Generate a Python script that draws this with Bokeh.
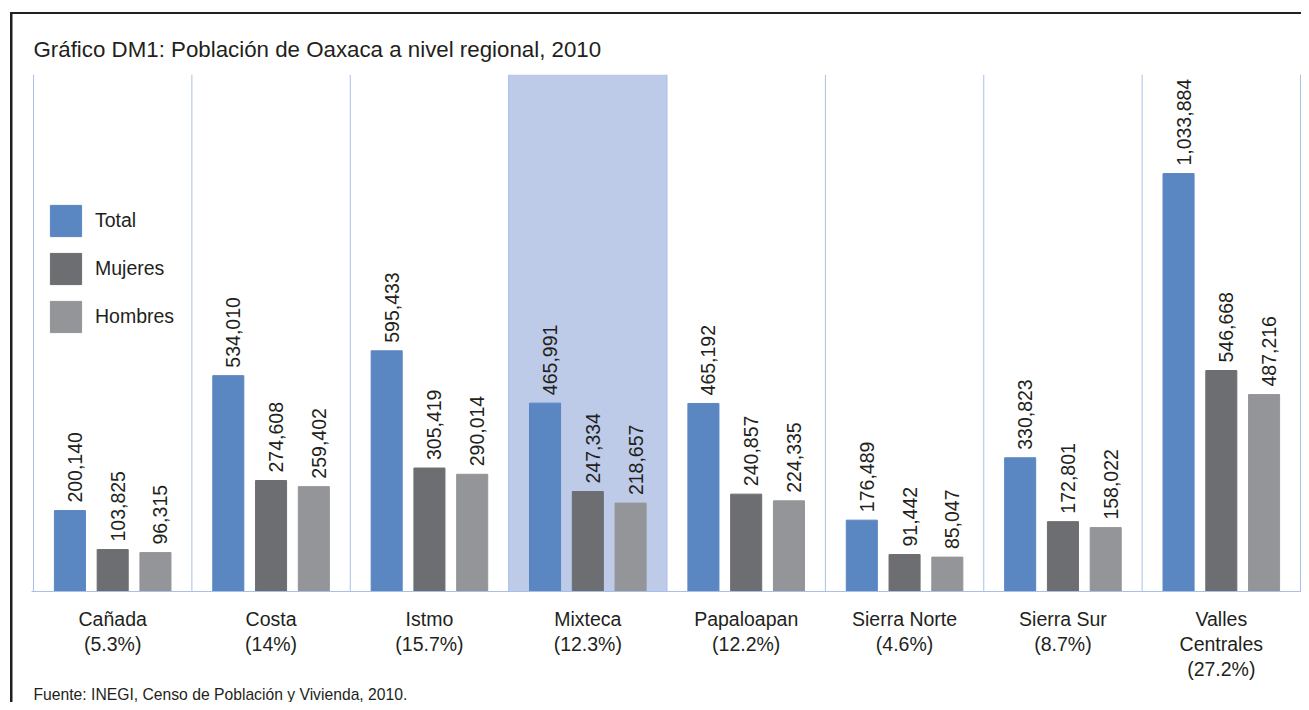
from bokeh.plotting import figure
from bokeh.models import Range1d, FixedTicker, Legend, LegendItem, ColumnDataSource, Title
from bokeh.embed import file_html
from bokeh.resources import INLINE
from bokeh.core.properties import value
import numpy as np

# ---- data ----
regions = ["Cañada", "Costa", "Istmo", "Mixteca", "Papaloapan",
           "Sierra Norte", "Sierra Sur", "Valles Centrales"]
region_labels = ["Cañada\n(5.3%)", "Costa\n(14%)", "Istmo\n(15.7%)", "Mixteca\n(12.3%)",
                 "Papaloapan\n(12.2%)", "Sierra Norte\n(4.6%)", "Sierra Sur\n(8.7%)",
                 "Valles\nCentrales\n(27.2%)"]
total = [200140, 534010, 595433, 465991, 465192, 176489, 330823, 1033884]
mujeres = [103825, 274608, 305419, 247334, 240857, 91442, 172801, 546668]
hombres = [96315, 259402, 290014, 218657, 224335, 85047, 158022, 487216]
series_names = ["Total", "Mujeres", "Hombres"]
highlight = "Mixteca"

title_text = "Gráfico DM1: Población de Oaxaca a nivel regional, 2010"
source_text = "Fuente: INEGI, Censo de Población y Vivienda, 2010."

# ---- style ----
FONT = "Liberation Sans"
TXT = "#231F20"
COLORS = ["#5A86C2", "#6D6E71", "#939598"]
GRID = "#A9C0E6"
BAND = "#BDCBE9"
YMAX = 1279000

n = len(regions)
p = figure(width=1301, height=702,
           x_range=Range1d(-0.01263, n + 0.00631), y_range=Range1d(0, YMAX),
           output_backend="svg", toolbar_location=None, y_axis_location=None,
           min_border_left=31, min_border_right=0, min_border_top=74, min_border_bottom=110)
p.border_fill_color = None
p.background_fill_color = None
p.outline_line_color = None
p.xgrid.visible = False
p.ygrid.visible = False
p.styles = {
    "background": ("linear-gradient(#231F20,#231F20) 10px 12px / calc(100% - 10px) 2px no-repeat, "
                   "linear-gradient(#231F20,#231F20) 10px 12px / 2.5px calc(100% - 12px) no-repeat, white"),
}

# title
p.title = Title(text=title_text, align="left", offset=2, standoff=25,
                text_font=FONT, text_font_size="22.3px", text_font_style="normal", text_color=TXT)

# highlight band
hi = regions.index(highlight)
p.quad(left=[hi], right=[hi + 1], bottom=[0], top=[YMAX], fill_color=BAND, line_color=None)

# category separators
bounds = list(range(n + 1))
p.segment(x0=bounds, y0=[0] * (n + 1), x1=bounds, y1=[YMAX] * (n + 1), line_color=GRID, line_width=1)

# bars
centers = np.arange(n) + 0.5
offsets = [-0.27, 0.0, 0.27]
bw = 0.196
renderers = []
for vals, off, col in zip([total, mujeres, hombres], offsets, COLORS):
    src = ColumnDataSource(dict(x=centers + off, top=vals, lab=[f"{v:,}" for v in vals]))
    r = p.vbar(x="x", top="top", width=bw, bottom=0, source=src, fill_color=col, line_color=col)
    renderers.append(r)
    p.text(x="x", y="top", text="lab", source=src, angle=np.pi / 2,
           text_align="left", text_baseline="middle", x_offset=5, y_offset=-8,
           text_font=value(FONT), text_font_size="19.5px", text_color=TXT)

# x axis
ax = p.xaxis[0]
ax.ticker = FixedTicker(ticks=list(centers))
ax.major_label_overrides = {float(c): lab for c, lab in zip(centers, region_labels)}
ax.axis_line_color = GRID
ax.major_tick_line_color = None
ax.minor_tick_line_color = None
ax.major_tick_out = 0
ax.major_tick_in = 0
ax.major_label_standoff = 16
ax.major_label_text_font = FONT
ax.major_label_text_font_size = "19.5px"
ax.major_label_text_color = TXT
ax.major_label_text_line_height = 1.15

# legend
legend = Legend(items=[LegendItem(label=nm, renderers=[r]) for nm, r in zip(series_names, renderers)],
                location=(15, 255), glyph_width=39, glyph_height=39, spacing=9,
                label_standoff=10, padding=0, margin=0, border_line_color=None,
                background_fill_alpha=0, label_text_font=FONT, label_text_font_size="19.5px",
                label_text_color=TXT)
p.add_layout(legend)

# source note
p.add_layout(Title(text=source_text, align="left", offset=2, standoff=0,
                   text_font=FONT, text_font_size="15.7px", text_font_style="normal",
                   text_color=TXT), "below")

open("out.html", "w").write(file_html(p, INLINE))
